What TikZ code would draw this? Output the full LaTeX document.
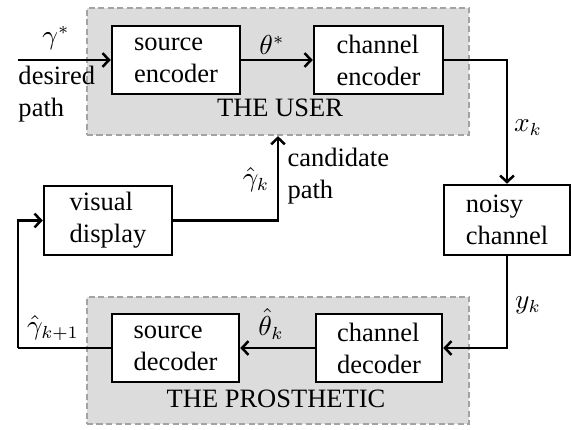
\documentclass[tikz,border=0pt]{standalone}
\usepackage{fontspec}
\setmainfont{Liberation Serif}
\usetikzlibrary{arrows.meta}
\definecolor{groupfill}{HTML}{DCDCDC}
\definecolor{groupline}{HTML}{A3A3A3}
\tikzset{
  blockbox/.style={draw=black, line width=1pt, fill=white, align=left, inner sep=0pt,
    font=\fontsize{10.6pt}{12.8pt}\selectfont},
  groupbox/.style={draw=groupline, fill=groupfill, line width=0.9pt, dash pattern=on 2.4pt off 1.4pt,
    minimum width=152.8pt, minimum height=50.8pt, inner sep=0pt},
  conn/.style={line width=1pt, -{Straight Barb[length=2.6pt,width=5.5pt,line width=1pt]}},
  plain/.style={line width=1pt},
  lbl/.style={font=\fontsize{10.6pt}{12.8pt}\selectfont, inner sep=0pt},
}
\begin{document}
\begin{tikzpicture}[x=0.4pt, y=-0.4pt]
\useasboundingbox (0,0) rectangle (571,430);
% groups
\node[groupbox] (user) at (278,71.5) {};
\node[groupbox] (prosth) at (278,360.5) {};
\node[lbl] (userlbl) at (280,108) {THE USER};
\node[lbl] (prostlbl) at (276,399) {THE PROSTHETIC};
% blocks
\node[blockbox, minimum width=51.2pt, minimum height=27.2pt] (srcenc) at (176,60) {source\\encoder};
\node[blockbox, minimum width=51.6pt, minimum height=27.2pt] (chenc) at (378.5,60) {channel\\encoder};
\node[blockbox, minimum width=50.4pt, minimum height=28pt] (noisy) at (507,220) {noisy\\channel};
\node[blockbox, minimum width=51.2pt, minimum height=27.6pt] (visual) at (108,220.5) {visual\\display};
\node[blockbox, minimum width=50.8pt, minimum height=27.2pt] (srcdec) at (175.5,348) {source\\decoder};
\node[blockbox, minimum width=50.4pt, minimum height=27.2pt] (chdec) at (379,348) {channel\\decoder};
% coordinates
\coordinate (in) at (18,60);
\coordinate (fb) at (18,348);
% connectors
\draw[conn] (in) -- (srcenc.west);
\draw[conn] (srcenc.east) -- (chenc.west);
\draw[conn] (chenc.east) -| (noisy.north);
\draw[conn] (noisy.south) |- (chdec.east);
\draw[conn] (chdec.west) -- (srcdec.east);
\draw[plain] (srcdec.west) -- (fb);
\draw[conn] (fb) |- (visual.west);
\draw[conn] (visual.east) -| (user.south);
% labels
\node[lbl] (gstar) at (56,38) {$\gamma^*$};
\node[lbl, align=left, anchor=north west] (desired) at (18,66) {desired\\path};
\node[lbl] (thstar) at (272,45) {$\theta^*$};
\node[lbl] (xk) at (528,128) {$x_k$};
\node[lbl] (ghatk) at (256,180) {$\hat{\gamma}_k$};
\node[lbl, align=left, anchor=north west] (cand) at (287,148) {candidate\\path};
\node[lbl] (yk) at (528,305) {$y_k$};
\node[lbl] (thhat) at (271,324) {$\hat{\theta}_k$};
\node[lbl] (ghatk1) at (53,328) {$\hat{\gamma}_{k+1}$};
\end{tikzpicture}
\end{document}
